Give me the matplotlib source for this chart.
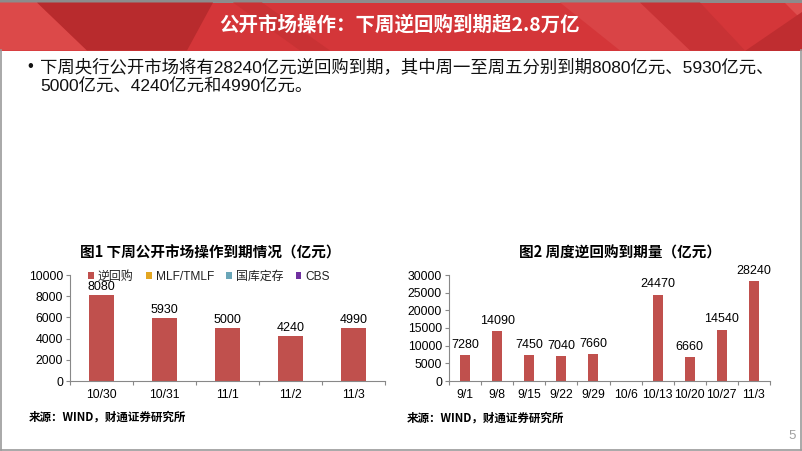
import matplotlib
matplotlib.use("Agg")
import matplotlib.pyplot as plt
from matplotlib.patches import Polygon, Rectangle
from matplotlib.lines import Line2D
import numpy as np

plt.rcParams['font.family'] = ['Liberation Sans', 'Noto Sans CJK SC', 'DejaVu Sans']

# ---------------- data ----------------
days = ["10/30", "10/31", "11/1", "11/2", "11/3"]
reverse_repo = [8080, 5930, 5000, 4240, 4990]
mlf = [0, 0, 0, 0, 0]
treasury_dep = [0, 0, 0, 0, 0]
cbs = [0, 0, 0, 0, 0]
series_names = ["逆回购", "MLF/TMLF", "国库定存", "CBS"]
series_colors = ["#C0504D", "#E3A622", "#6AA6B8", "#7030A0"]

weeks = ["9/1", "9/8", "9/15", "9/22", "9/29", "10/6", "10/13", "10/20", "10/27", "11/3"]
weekly_repo = [7280, 14090, 7450, 7040, 7660, 0, 24470, 6660, 14540, 28240]

title = "公开市场操作：下周逆回购到期超2.8万亿"
bullet1 = "下周央行公开市场将有28240亿元逆回购到期，其中周一至周五分别到期8080亿元、5930亿元、"
bullet2 = "5000亿元、4240亿元和4990亿元。"
title1 = "图1 下周公开市场操作到期情况（亿元）"
title2 = "图2 周度逆回购到期量（亿元）"
source = "来源：WIND，财通证券研究所"

W, H = 802, 451
fig = plt.figure(figsize=(W / 100, H / 100), dpi=100)

def fx(x):
    return x / W

def fy(y):
    return 1 - y / H

# ---------------- banner ----------------
bg = fig.add_axes([0, 0, 1, 1], zorder=-10)
bg.set_xlim(0, W)
bg.set_ylim(H, 0)
bg.axis('off')
bg.add_patch(Rectangle((0, 0), W, 2.5, color="#8C8C8C", lw=0))
bg.add_patch(Rectangle((0, 2.5), W, 48, color="#D43639", lw=0))
polys = [
    ([(0, 2.5), (37, 2.5), (87, 50.5), (0, 50.5)], "#DC4949"),
    ([(37, 2.5), (213, 2.5), (187, 50.5), (87, 50.5)], "#B82B2D"),
    ([(233, 2.5), (262, 2.5), (330, 50.5), (300, 50.5)], "#C93234"),
    ([(560, 2.5), (640, 2.5), (700, 50.5), (620, 50.5)], "#D94446"),
    ([(640, 2.5), (700, 2.5), (745, 50.5), (690, 50.5)], "#C83235"),
    ([(785, 2.5), (802, 2.5), (802, 20)], "#DE4E4E"),
    ([(745, 50.5), (802, 50.5), (802, 12)], "#BF2D30"),
]
for pts, c in polys:
    bg.add_patch(Polygon(pts, closed=True, color=c, lw=0))
# frame
bg.add_line(Line2D([1, 1], [50, 449.5], color="#9A9A9A", lw=1.2))
bg.add_line(Line2D([800.5, 800.5], [50, 449.5], color="#9A9A9A", lw=1.2))
bg.add_line(Line2D([1, 800.5], [449.5, 449.5], color="#9A9A9A", lw=1.2))

fig.text(fx(400), fy(25), title, color="white", fontsize=14, fontweight='bold',
         ha='center', va='center', family=['Noto Sans CJK SC', 'Liberation Sans'])

# bullet text
fig.text(fx(30), fy(67), "•", fontsize=12, ha='center', va='center', color="#111111")
fig.text(fx(40), fy(67), bullet1, fontsize=12.5, ha='left', va='center', color="#111111",
         family=['Liberation Sans', 'Noto Sans CJK SC'])
fig.text(fx(40), fy(87), bullet2, fontsize=12.5, ha='left', va='center', color="#111111",
         family=['Liberation Sans', 'Noto Sans CJK SC'])

# chart titles and sources
fig.text(fx(210), fy(253), title1, fontsize=10.5, fontweight='bold', style='italic',
         ha='center', va='center', family=['Noto Sans CJK SC', 'Liberation Sans'])
fig.text(fx(620), fy(253), title2, fontsize=10.5, fontweight='bold', style='italic',
         ha='center', va='center', family=['Noto Sans CJK SC', 'Liberation Sans'])
fig.text(fx(29), fy(417), source, fontsize=8.3, fontweight='bold', style='italic',
         ha='left', va='center', family=['Noto Sans CJK SC', 'Liberation Sans'])
fig.text(fx(407), fy(418), source, fontsize=8.3, fontweight='bold', style='italic',
         ha='left', va='center', family=['Noto Sans CJK SC', 'Liberation Sans'])
fig.text(fx(792), fy(436), "5", fontsize=9.5, color="#A0A0A0", ha='center', va='center')

axis_color = "#888888"

def style_axes(ax, n):
    for s in ['top', 'right']:
        ax.spines[s].set_visible(False)
    for s in ['left', 'bottom']:
        ax.spines[s].set_color(axis_color)
        ax.spines[s].set_linewidth(0.8)
    ax.set_xlim(-0.5, n - 0.5)
    ax.set_xticks(np.arange(n))
    ax.set_xticks(np.arange(n + 1) - 0.5, minor=True)
    ax.tick_params(axis='x', which='major', length=0, pad=6, labelsize=8.8)
    ax.tick_params(axis='x', which='minor', length=3, color=axis_color, width=0.8)
    ax.tick_params(axis='y', which='major', length=3, color=axis_color, width=0.8,
                   pad=2, labelsize=8.8)
    ax.set_facecolor('none')

# ---------------- chart 1 ----------------
ax1 = fig.add_axes([fx(70), fy(381), (385 - 70) / W, (381 - 275) / H])
x1 = np.arange(len(days))
bottom = np.zeros(len(days))
for name, vals, col in zip(series_names, [reverse_repo, mlf, treasury_dep, cbs], series_colors):
    ax1.bar(x1, vals, width=0.4, bottom=bottom, color=col, lw=0, label=name)
    bottom = bottom + np.array(vals)
for xi, v in zip(x1, reverse_repo):
    ax1.annotate(f"{v}", (xi, v), xytext=(0, 1.5), textcoords='offset points',
                 ha='center', va='bottom', fontsize=9)
ax1.set_ylim(0, 10000)
ax1.set_yticks(np.arange(0, 10001, 2000))
style_axes(ax1, len(days))
ax1.set_xticklabels(days)
handles = [Rectangle((0, 0), 1, 1, color=c, lw=0) for c in series_colors]
leg = fig.legend(handles, series_names, loc='center', bbox_to_anchor=(fx(209), fy(276.5)),
                 ncol=4, frameon=False, fontsize=8.6, handlelength=0.5, handleheight=0.5,
                 handletextpad=0.35, columnspacing=1.0, borderaxespad=0, borderpad=0)
for t in leg.get_texts():
    t.set_color("#222222")

# ---------------- chart 2 ----------------
ax2 = fig.add_axes([fx(449), fy(381), (770 - 449) / W, (381 - 275) / H])
x2 = np.arange(len(weeks))
ax2.bar(x2, weekly_repo, width=0.31, color=series_colors[0], lw=0)
for xi, v in zip(x2, weekly_repo):
    if v > 0:
        ax2.annotate(f"{v}", (xi, v), xytext=(0, 3), textcoords='offset points',
                     ha='center', va='bottom', fontsize=9)
ax2.set_ylim(0, 30000)
ax2.set_yticks(np.arange(0, 30001, 5000))
style_axes(ax2, len(weeks))
ax2.set_xticklabels(weeks)

fig.savefig("out.png", dpi=100)
